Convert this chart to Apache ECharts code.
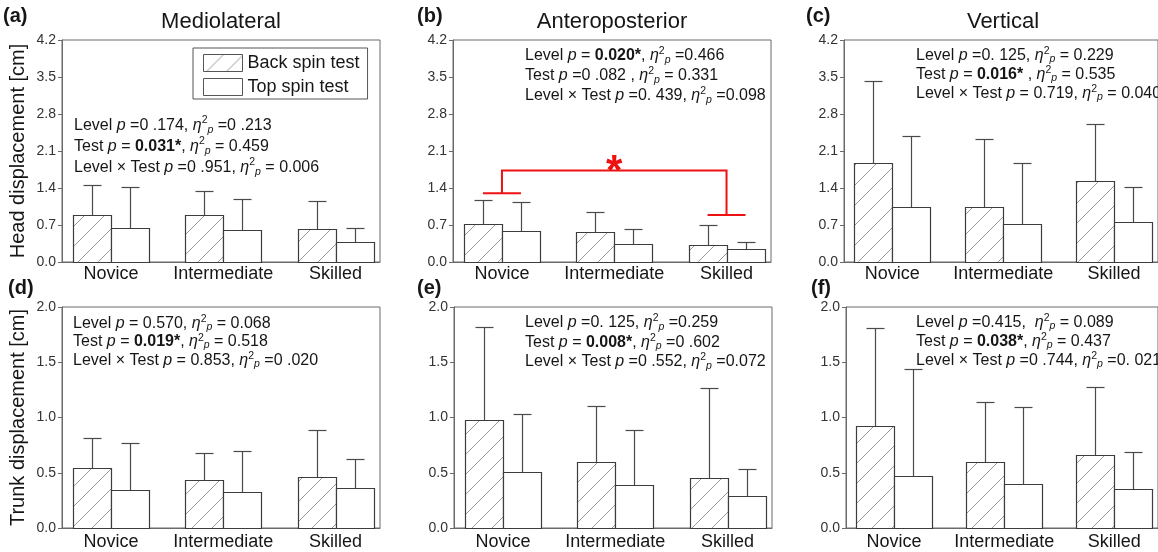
<!DOCTYPE html>
<html>
<head>
<meta charset="utf-8">
<script src="https://cdn.jsdelivr.net/npm/echarts@6/dist/echarts.min.js"></script>
<style>
html,body{margin:0;padding:0;background:#fff;}
#chart{width:1158px;height:552px;}
</style>
</head>
<body>
<div id="chart"></div>
<script>
// ---------------- DATA ----------------
const categories = ['Novice', 'Intermediate', 'Skilled'];
const seriesNames = ['Back spin test', 'Top spin test'];

// Head displacement [cm] — means and SD (upper error bar)
const headML_back = [0.88, 0.88, 0.63];
const headML_backSD = [0.57, 0.46, 0.53];
const headML_top = [0.65, 0.61, 0.37];
const headML_topSD = [0.77, 0.59, 0.28];

const headAP_back = [0.71, 0.56, 0.32];
const headAP_backSD = [0.47, 0.39, 0.38];
const headAP_top = [0.59, 0.35, 0.25];
const headAP_topSD = [0.55, 0.28, 0.12];

const headV_back = [1.88, 1.05, 1.535];
const headV_backSD = [1.55, 1.28, 1.085];
const headV_top = [1.036, 0.71, 0.76];
const headV_topSD = [1.354, 1.166, 0.66];

// Trunk displacement [cm]
const trunkML_back = [0.54, 0.436, 0.46];
const trunkML_backSD = [0.27, 0.24, 0.43];
const trunkML_top = [0.343, 0.325, 0.36];
const trunkML_topSD = [0.427, 0.375, 0.26];

const trunkAP_back = [0.98, 0.60, 0.45];
const trunkAP_backSD = [0.84, 0.50, 0.82];
const trunkAP_top = [0.505, 0.39, 0.29];
const trunkAP_topSD = [0.525, 0.494, 0.245];

const trunkV_back = [0.923, 0.60, 0.665];
const trunkV_backSD = [0.887, 0.543, 0.615];
const trunkV_top = [0.47, 0.40, 0.35];
const trunkV_topSD = [0.965, 0.695, 0.34];

// Axis scales
const headYMax = 4.2, headYStep = 0.7;
const trunkYMax = 2.0, trunkYStep = 0.5;

// Significance bracket in panel (b): [fromCat, toCat, fromY, topY, toY]
const sigBracketAP = [0, 2, 1.30, 1.73, 0.89];
const sigMark = '*';

// Titles and labels
const columnTitles = ['Mediolateral', 'Anteroposterior', 'Vertical'];
const panelLetters = ['(a)', '(b)', '(c)', '(d)', '(e)', '(f)'];
const yAxisNames = ['Head displacement [cm]', 'Trunk displacement [cm]'];

const ETA = '{i|η}{sup|2}{sub|p}';
const statsText = [
  ['Level {i|p} =0 .174, ' + ETA + ' =0 .213',
   'Test {i|p} = {b|0.031*}, ' + ETA + ' = 0.459',
   'Level × Test {i|p} =0 .951, ' + ETA + ' = 0.006'],
  ['Level {i|p} = {b|0.020*}, ' + ETA + ' =0.466',
   'Test {i|p} =0 .082 , ' + ETA + ' = 0.331',
   'Level × Test {i|p} =0. 439, ' + ETA + ' =0.098'],
  ['Level {i|p} =0. 125, ' + ETA + ' = 0.229',
   'Test {i|p} = {b|0.016*} , ' + ETA + ' = 0.535',
   'Level × Test {i|p} = 0.719, ' + ETA + ' = 0.040'],
  ['Level {i|p} = 0.570, ' + ETA + ' = 0.068',
   'Test {i|p} = {b|0.019*}, ' + ETA + ' = 0.518',
   'Level × Test {i|p} = 0.853, ' + ETA + ' =0 .020'],
  ['Level {i|p} =0. 125, ' + ETA + ' =0.259',
   'Test {i|p} = {b|0.008*}, ' + ETA + ' =0 .602',
   'Level × Test {i|p} =0 .552, ' + ETA + ' =0.072'],
  ['Level {i|p} =0.415,  ' + ETA + ' = 0.089',
   'Test {i|p} = {b|0.038*}, ' + ETA + ' = 0.437',
   'Level × Test {i|p} =0 .744, ' + ETA + ' =0. 021']
];

// ---------------- STYLE / LAYOUT ----------------
const FONT = '"Liberation Sans", Arial, Helvetica, sans-serif';
const TEXT = '#161616';
const FRAME = '#6a6a6a';
const BAR_EDGE = '#3c3c3c';
const ERR = '#4a4a4a';
const BAR_W = 38;
const CAP_W = 18;
const PLOT_W = 318;
const STAT_FS = 16;

function makeHatch() {
  const s = 20;
  const cv = document.createElement('canvas');
  cv.width = s; cv.height = s;
  const g = cv.getContext('2d');
  g.fillStyle = '#ffffff';
  g.fillRect(0, 0, s, s);
  g.strokeStyle = '#9a9a9a';
  g.lineWidth = 1;
  g.beginPath();
  g.moveTo(0, s); g.lineTo(s, 0);
  g.moveTo(-2, 2); g.lineTo(2, -2);
  g.moveTo(s - 2, s + 2); g.lineTo(s + 2, s - 2);
  g.stroke();
  return { image: cv, repeat: 'repeat' };
}
const hatch = makeHatch();

const panels = [
  { left: 62,  top: 40,  h: 222, ymax: headYMax, step: headYStep, back: headML_back, backSD: headML_backSD, topv: headML_top, topSD: headML_topSD, yname: yAxisNames[0], lm: 3, tx: 74,  ty: 115, lh: 21, letterX: 3,   letterY: 6 },
  { left: 453, top: 40,  h: 222, ymax: headYMax, step: headYStep, back: headAP_back, backSD: headAP_backSD, topv: headAP_top, topSD: headAP_topSD, yname: '', lm: 3, tx: 525, ty: 46,  lh: 20, letterX: 417, letterY: 6 },
  { left: 844, top: 40,  h: 222, ymax: headYMax, step: headYStep, back: headV_back,  backSD: headV_backSD,  topv: headV_top,  topSD: headV_topSD,  yname: '', lm: 3, tx: 916, ty: 46,  lh: 19, letterX: 806, letterY: 6 },
  { left: 62,  top: 307, h: 221, ymax: trunkYMax, step: trunkYStep, back: trunkML_back, backSD: trunkML_backSD, topv: trunkML_top, topSD: trunkML_topSD, yname: yAxisNames[1], lm: 5, tx: 73,  ty: 314, lh: 18.5, letterX: 8,  letterY: 278 },
  { left: 454, top: 307, h: 221, ymax: trunkYMax, step: trunkYStep, back: trunkAP_back, backSD: trunkAP_backSD, topv: trunkAP_top, topSD: trunkAP_topSD, yname: '', lm: 5, tx: 525, ty: 313, lh: 19.5, letterX: 417, letterY: 278 },
  { left: 846, top: 307, h: 221, ymax: trunkYMax, step: trunkYStep, back: trunkV_back,  backSD: trunkV_backSD,  topv: trunkV_top,  topSD: trunkV_topSD,  yname: '', lm: 5, tx: 916, ty: 313, lh: 19, letterX: 811, letterY: 278 }
];

function barRenderer(side, fill) {
  return function (params, api) {
    const cat = api.value(0), mean = api.value(1), sd = api.value(2);
    const base = api.coord([cat, 0]);
    const topP = api.coord([cat, mean]);
    const errP = api.coord([cat, mean + sd]);
    const cx = Math.round(base[0] + side * BAR_W / 2) + 0.5;
    const yTop = Math.round(topP[1]) + 0.5;
    const yErr = Math.round(errP[1]) + 0.5;
    const yBase = Math.round(base[1]) + 0.5;
    return {
      type: 'group',
      children: [
        { type: 'line', shape: { x1: cx, y1: yTop, x2: cx, y2: yErr }, style: { stroke: ERR, lineWidth: 1.2 } },
        { type: 'line', shape: { x1: cx - CAP_W / 2, y1: yErr, x2: cx + CAP_W / 2, y2: yErr }, style: { stroke: ERR, lineWidth: 1.2 } },
        { type: 'rect', shape: { x: cx - BAR_W / 2, y: yTop, width: BAR_W, height: yBase - yTop }, style: { fill: fill, stroke: BAR_EDGE, lineWidth: 1.2 } }
      ]
    };
  };
}

function bracketRenderer(params, api) {
  const c0 = api.value(0), c1 = api.value(1);
  const y0 = api.value(2), yt = api.value(3), y1 = api.value(4);
  const pA = api.coord([c0, y0]);
  const pT0 = api.coord([c0, yt]);
  const pT1 = api.coord([c1, yt]);
  const pB = api.coord([c1, y1]);
  const red = '#ee1111';
  const half = BAR_W / 2;
  return {
    type: 'group',
    children: [
      { type: 'line', shape: { x1: pA[0] - half, y1: pA[1], x2: pA[0] + half, y2: pA[1] }, style: { stroke: red, lineWidth: 2 } },
      { type: 'polyline', shape: { points: [[pA[0], pA[1]], [pT0[0], pT0[1]], [pT1[0], pT1[1]], [pB[0], pB[1]]] }, style: { stroke: red, lineWidth: 2, fill: null } },
      { type: 'line', shape: { x1: pB[0] - half, y1: pB[1], x2: pB[0] + half, y2: pB[1] }, style: { stroke: red, lineWidth: 2 } },
      { type: 'text', x: (pT0[0] + pT1[0]) / 2, y: pT0[1] + 2, style: { text: sigMark, fill: red, font: 'bold 42px ' + FONT, textAlign: 'center', textVerticalAlign: 'middle' } }
    ]
  };
}

const grids = [], xAxes = [], yAxes = [], series = [], graphics = [];

const richStyles = {
  i: { fontStyle: 'italic', fontSize: STAT_FS, fontFamily: FONT, fill: TEXT },
  b: { fontWeight: 'bold', fontSize: STAT_FS, fontFamily: FONT, fill: TEXT },
  sup: { fontSize: 10.5, fontFamily: FONT, verticalAlign: 'top', lineHeight: 12, fill: TEXT },
  sub: { fontSize: 10.5, fontStyle: 'italic', fontFamily: FONT, verticalAlign: 'bottom', lineHeight: 11, fill: TEXT }
};

panels.forEach((p, k) => {
  grids.push({ left: p.left, top: p.top, width: PLOT_W, height: p.h, show: true, borderColor: FRAME, borderWidth: 1, backgroundColor: 'transparent', containLabel: false });
  xAxes.push({
    gridIndex: k, type: 'value', min: -0.436, max: 2.396,
    axisLine: { show: true, onZero: false, lineStyle: { color: FRAME, width: 1 } },
    axisTick: { show: false },
    splitLine: { show: false },
    axisLabel: { customValues: [0, 1, 2], formatter: v => categories[Math.round(v)], fontSize: 18, fontFamily: FONT, color: TEXT, margin: p.lm }
  });
  yAxes.push({
    gridIndex: k, type: 'value', min: 0, max: p.ymax, interval: p.step,
    name: p.yname, nameLocation: 'middle', nameGap: 34, nameRotate: 90,
    nameTextStyle: { fontSize: 20, fontFamily: FONT, color: TEXT },
    axisLine: { show: true, onZero: false, lineStyle: { color: FRAME, width: 1 } },
    axisTick: { show: true, inside: false, length: 4, lineStyle: { color: FRAME } },
    splitLine: { show: false },
    axisLabel: { fontSize: 14, fontFamily: FONT, color: '#333', margin: 6, formatter: v => v.toFixed(1) }
  });
  series.push({
    name: seriesNames[0], type: 'custom', xAxisIndex: k, yAxisIndex: k, clip: false,
    renderItem: barRenderer(-1, hatch),
    encode: { x: 0, y: 1 },
    data: p.back.map((v, i) => [i, v, p.backSD[i]])
  });
  series.push({
    name: seriesNames[1], type: 'custom', xAxisIndex: k, yAxisIndex: k, clip: false,
    renderItem: barRenderer(1, '#ffffff'),
    encode: { x: 0, y: 1 },
    data: p.topv.map((v, i) => [i, v, p.topSD[i]])
  });
  graphics.push({
    type: 'text', left: p.tx, top: p.ty,
    style: { text: statsText[k].join('\n'), fontSize: STAT_FS, fontFamily: FONT, fill: TEXT, lineHeight: p.lh, rich: richStyles }
  });
  graphics.push({
    type: 'text', left: p.letterX, top: p.letterY,
    style: { text: panelLetters[k], font: 'bold 20px ' + FONT, fill: TEXT }
  });
  if (k < 3) {
    graphics.push({
      type: 'text', x: p.left + PLOT_W / 2, y: 22,
      style: { text: columnTitles[k], font: '22px ' + FONT, fill: TEXT, textAlign: 'center', textVerticalAlign: 'middle' }
    });
  }
});

series.push({
  name: 'significance', type: 'custom', xAxisIndex: 1, yAxisIndex: 1, clip: false,
  renderItem: bracketRenderer,
  encode: { x: 0, y: 2 },
  data: [sigBracketAP]
});

const chart = echarts.init(document.getElementById('chart'), null, { renderer: 'canvas' });
chart.setOption({
  backgroundColor: '#ffffff',
  animation: false,
  textStyle: { fontFamily: FONT },
  grid: grids,
  xAxis: xAxes,
  yAxis: yAxes,
  legend: {
    left: 193, top: 48, orient: 'vertical', selectedMode: false,
    itemWidth: 39, itemHeight: 17, itemGap: 6,
    padding: [6, 8, 3, 10],
    borderColor: '#555', borderWidth: 1,
    textStyle: { fontSize: 18, fontFamily: FONT, color: TEXT },
    data: [
      { name: seriesNames[0], icon: 'rect', itemStyle: { color: hatch, borderColor: '#555', borderWidth: 1 } },
      { name: seriesNames[1], icon: 'rect', itemStyle: { color: '#ffffff', borderColor: '#555', borderWidth: 1 } }
    ]
  },
  graphic: graphics,
  series: series
});
</script>
</body>
</html>
